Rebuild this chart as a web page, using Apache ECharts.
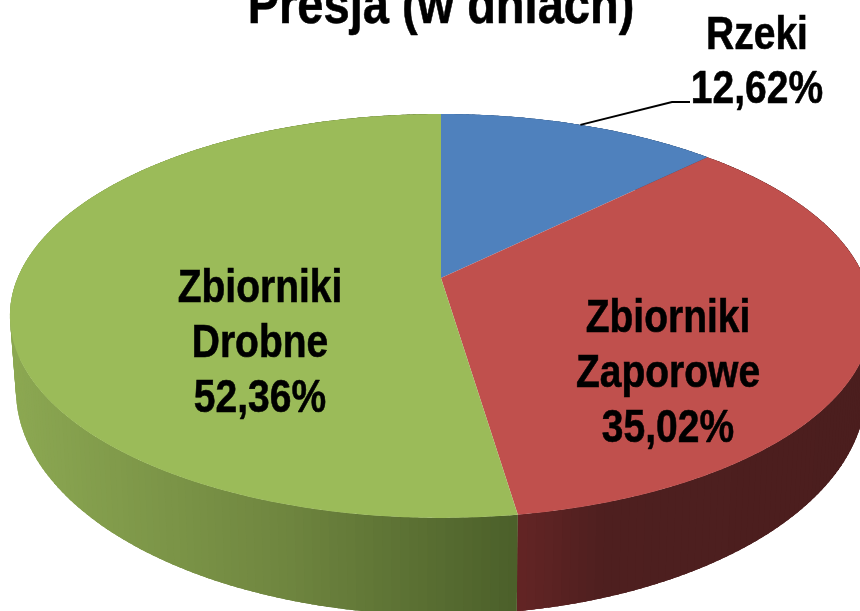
<!DOCTYPE html>
<html>
<head>
<meta charset="utf-8">
<style>
  html, body { margin: 0; padding: 0; background: #fff; }
  #chart { width: 860px; height: 611px; }
</style>
</head>
<body>
<div id="chart"></div>
<script src="https://cdn.jsdelivr.net/npm/echarts@6/dist/echarts.min.js"></script>
<script>
const titleText = 'Presja (w dniach)';
const categories = ['Rzeki', 'Zbiorniki\nZaporowe', 'Zbiorniki\nDrobne'];
const values = [12.62, 35.02, 52.36];
const faceColors = ['#4f81bd', '#c0504d', '#9bbb59'];
// wall shading: [x, colour] from left to right
const wallShades = [
  [[441, '#3b5f8c'], [707, '#2c4a6e']],
  [[516, '#652525'], [610, '#4e1f1f'], [860, '#4b1e1e']],
  [[10, '#8ca852'], [280, '#708740'], [516, '#4c602a']]
];
const labelAnchors = [[757, 63], [668, 374], [260, 344]];

const total = values.reduce((a, b) => a + b, 0);
const FONT = 'bold 39px "Liberation Sans", Arial, sans-serif';

// tilted disc: perspective projection of the unit circle
function rimTop(deg) {
  const a = deg * Math.PI / 180;
  const u = Math.sin(a), v = Math.cos(a);
  const d = 1 + 0.188 * v;
  return [441 + 423.4 * u / d, 278 - 194.8 * v / d];
}
function rimBottom(deg) {
  const p = rimTop(deg);
  return [441 + (p[0] - 441) * 0.986, 390 + (p[1] - 316) * 1.114];
}
function sliceAngles(i) {
  let before = 0;
  for (let k = 0; k < i; k++) before += values[k];
  return [before / total * 360, (before + values[i]) / total * 360];
}
function hex2rgb(h) {
  return [1, 3, 5].map(n => parseInt(h.substr(n, 2), 16));
}
function shadeAt(stops, x) {
  if (x <= stops[0][0]) return stops[0][1];
  for (let i = 1; i < stops.length; i++) {
    if (x <= stops[i][0]) {
      const t = (x - stops[i - 1][0]) / (stops[i][0] - stops[i - 1][0]);
      const a = hex2rgb(stops[i - 1][1]), b = hex2rgb(stops[i][1]);
      return 'rgb(' + a.map((c, n) => Math.round(c + (b[n] - c) * t)).join(',') + ')';
    }
  }
  return stops[stops.length - 1][1];
}

function renderWall(params) {
  const i = params.dataIndex;
  const [from, to] = sliceAngles(i);
  const children = [];
  const step = 1;
  for (let d = from; d < to; d += step) {
    // each strip overlaps the next one, otherwise hairline seams show
    const e = Math.min(d + step * 2.5, to);
    const a = rimTop(d), b = rimTop(e), c = rimBottom(e), f = rimBottom(d);
    const col = shadeAt(wallShades[i], a[0]);
    children.push({
      type: 'polygon',
      shape: { points: [a, b, c, f] },
      style: { fill: col }
    });
  }
  return { type: 'group', children: children };
}

function renderFace(params) {
  const i = params.dataIndex;
  const [from, to] = sliceAngles(i);
  const pts = [[441, 278]];
  for (let d = from; d < to; d += 0.5) pts.push(rimTop(d));
  pts.push(rimTop(to));
  return {
    type: 'polygon',
    shape: { points: pts },
    style: { fill: faceColors[i] }
  };
}

function renderLabel(params) {
  const i = params.dataIndex;
  const [from, to] = sliceAngles(i);
  const text = categories[i] + '\n' + values[i].toFixed(2).replace('.', ',') + '%';
  const children = [{
    type: 'text',
    x: labelAnchors[i][0],
    y: labelAnchors[i][1],
    scaleY: 1.2,
    style: {
      text: text,
      font: FONT,
      lineHeight: 45.6,
      fill: '#000',
      stroke: '#000',
      lineWidth: 0.5,
      align: 'center',
      verticalAlign: 'middle'
    }
  }];
  // only the small outer slice has a leader line
  if (i === 0) {
    const start = rimTop((from + to) / 2);
    children.push({
      type: 'polyline',
      shape: { points: [start, [672, 102], [690, 102]] },
      style: { fill: 'none', stroke: '#000', lineWidth: 2 }
    });
  }
  return { type: 'group', children: children };
}

const seriesData = values.map((v, i) => ({ name: categories[i], value: v }));
const chart = echarts.init(document.getElementById('chart'), null, { renderer: 'canvas' });
chart.setOption({
  animation: false,
  backgroundColor: '#fff',
  graphic: [{
    type: 'text',
    x: 441,
    y: -21,
    scaleY: 1.2,
    style: {
      text: titleText,
      font: 'bold 47px "Liberation Sans", Arial, sans-serif',
      fill: '#000',
      stroke: '#000',
      lineWidth: 0.5,
      align: 'center',
      verticalAlign: 'top'
    }
  }],
  series: [
    { type: 'custom', coordinateSystem: 'none', z: 1, renderItem: renderWall, data: seriesData },
    { type: 'custom', coordinateSystem: 'none', z: 2, renderItem: renderFace, data: seriesData },
    { type: 'custom', coordinateSystem: 'none', z: 3, renderItem: renderLabel, data: seriesData }
  ]
});
</script>
</body>
</html>
